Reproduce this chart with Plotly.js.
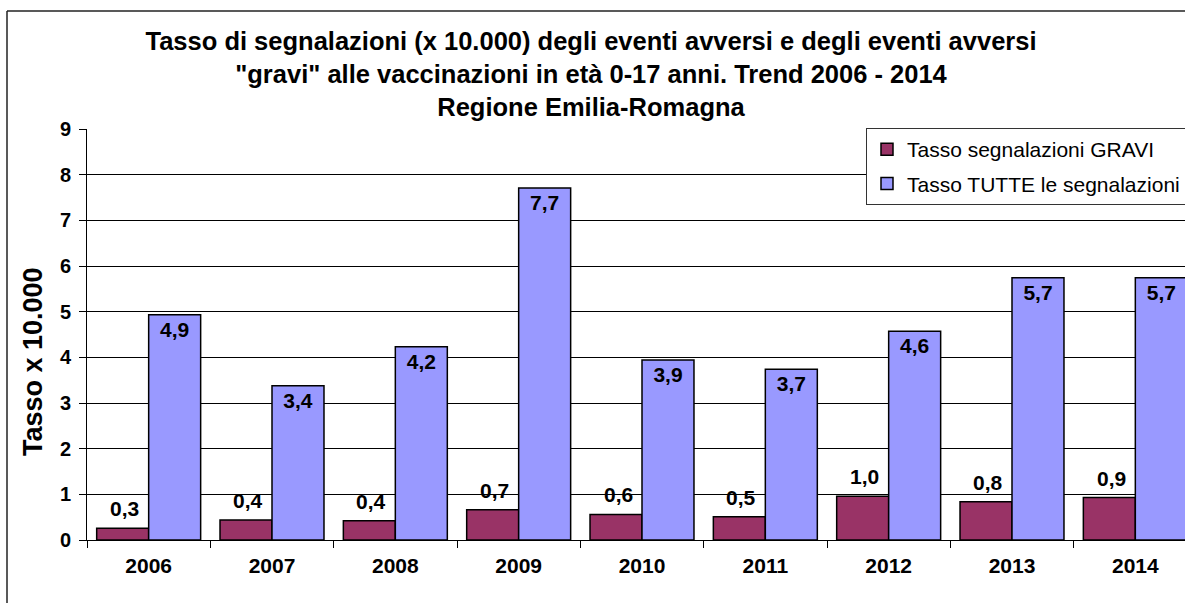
<!DOCTYPE html>
<html>
<head>
<meta charset="utf-8">
<script src="https://cdn.plot.ly/plotly-3.0.1.min.js"></script>
<style>
  html, body { margin: 0; padding: 0; background: #fff; overflow: hidden; }
  #chart { width: 1210px; height: 603px; }
</style>
</head>
<body>
<div id="chart"></div>
<script>
// values
const anni = ['2006', '2007', '2008', '2009', '2010', '2011', '2012', '2013', '2014'];
const tassoGravi = [0.26, 0.44, 0.42, 0.66, 0.56, 0.51, 0.96, 0.84, 0.93];
const tassoTutte = [4.93, 3.38, 4.23, 7.71, 3.94, 3.74, 4.57, 5.74, 5.74];

const W = 1210, H = 603;
const plotLeft = 87, plotRight = 1197, plotTop = 129, plotBottom = 540;
// pixel -> paper helpers for frame, legend and y title
const px = x => (x - plotLeft) / (plotRight - plotLeft);
const py = y => (plotBottom - y) / (plotBottom - plotTop);

const FONT = 'Liberation Sans, Arial, sans-serif';
const fmt = v => v.toFixed(1).replace('.', ',');

const traces = [
  {
    type: 'bar',
    x: anni,
    y: tassoGravi,
    name: 'Tasso segnalazioni GRAVI',
    legendgroup: 'g',
    marker: { color: '#993366', line: { color: '#000', width: 1.5 } },
    hoverinfo: 'skip'
  },
  {
    type: 'bar',
    x: anni,
    y: tassoTutte,
    name: 'Tasso TUTTE le segnalazioni',
    legendgroup: 't',
    marker: { color: '#9999FF', line: { color: '#000', width: 1.5 } },
    texttemplate: '%{y:.1f}',
    textposition: 'inside',
    insidetextanchor: 'end',
    textangle: 0,
    constraintext: 'none',
    textfont: { family: FONT, size: 21, weight: 'bold', color: '#000' },
    hoverinfo: 'skip'
  }
];

// labels of the GRAVI bars, a little above each bar (left bar of each pair);
// x is the category index on the category axis
const labelGravi = anni.map((a, i) => ({
  x: i,
  y: tassoGravi[i],
  xref: 'x', yref: 'y',
  text: fmt(tassoGravi[i]),
  showarrow: false,
  xanchor: 'center',
  yanchor: 'bottom',
  xshift: -24,
  yshift: 6,
  font: { family: FONT, size: 21, weight: 'bold', color: '#000' }
}));

const layout = {
  width: W,
  height: H,
  margin: { l: plotLeft, r: W - plotRight, t: plotTop, b: H - plotBottom },
  paper_bgcolor: '#fff',
  plot_bgcolor: '#fff',
  separators: ',.',
  font: { family: FONT, color: '#000' },
  title: {
    text: 'Tasso di segnalazioni (x 10.000) degli eventi avversi e degli eventi avversi<br>"gravi" alle vaccinazioni in età 0-17 anni. Trend 2006 - 2014<br>Regione Emilia-Romagna',
    font: { family: FONT, size: 25.5, weight: 'bold', color: '#000' },
    xref: 'container',
    x: 591 / W,
    xanchor: 'center',
    yref: 'container',
    y: 1 - 50 / H,
    yanchor: 'top'
  },
  barmode: 'group',
  bargap: 0.157,
  bargroupgap: 0,
  showlegend: true,
  legend: {
    x: px(866),
    y: py(128),
    xanchor: 'left',
    yanchor: 'top',
    bgcolor: '#fff',
    bordercolor: '#333',
    borderwidth: 1,
    traceorder: 'grouped',
    tracegroupgap: 4,
    font: { family: FONT, size: 21, color: '#000' }
  },
  xaxis: {
    type: 'category',
    range: [-0.5, anni.length - 0.5],
    autorange: false,
    showline: true,
    linecolor: '#000',
    linewidth: 1,
    ticks: 'outside',
    tickson: 'boundaries',
    ticklen: 7,
    tickcolor: '#000',
    ticklabelstandoff: 7,
    showgrid: false,
    tickfont: { family: FONT, size: 21, weight: 'bold', color: '#000' },
    fixedrange: true
  },
  yaxis: {
    range: [0, 9],
    autorange: false,
    dtick: 1,
    showline: true,
    linecolor: '#000',
    linewidth: 1,
    ticks: 'outside',
    ticklen: 7,
    tickcolor: '#000',
    ticklabelstandoff: 4,
    showgrid: true,
    gridcolor: '#000',
    gridwidth: 1,
    zeroline: false,
    tickfont: { family: FONT, size: 20, weight: 'bold', color: '#000' },
    fixedrange: true
  },
  annotations: [
    {
      text: 'Tasso x 10.000',
      xref: 'paper', yref: 'paper',
      x: px(33), y: py(362),
      xanchor: 'center', yanchor: 'middle',
      textangle: -90,
      showarrow: false,
      font: { family: FONT, size: 27, weight: 'bold', color: '#000' }
    }
  ].concat(labelGravi),
  shapes: [
    {
      type: 'line',
      xref: 'paper', yref: 'paper',
      x0: px(7), x1: px(1300), y0: py(11), y1: py(11),
      line: { color: '#222', width: 1.5 },
      layer: 'above'
    },
    {
      type: 'line',
      xref: 'paper', yref: 'paper',
      x0: px(7), x1: px(7), y0: py(11), y1: py(700),
      line: { color: '#222', width: 1.5 },
      layer: 'above'
    }
  ]
};

Plotly.newPlot('chart', traces, layout, { displayModeBar: false, staticPlot: true });
</script>
</body>
</html>
